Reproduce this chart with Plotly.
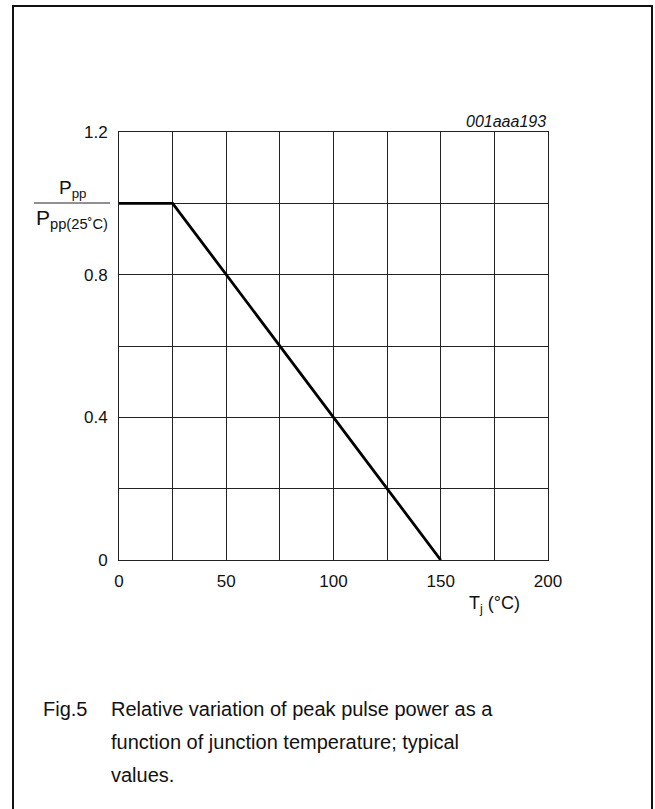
import plotly.graph_objects as go

# Data
temp_c = [0, 25, 150]
rel_power = [1.0, 1.0, 0.0]

x_grid = [0, 25, 50, 75, 100, 125, 150, 175, 200]
x_labels = ["0", "", "50", "", "100", "", "150", "", "200"]
y_grid = [0, 0.2, 0.4, 0.6, 0.8, 1.0, 1.2]
y_labels = ["0", "", "0.4", "", "0.8", "", "1.2"]

caption_lines = ["Relative variation of peak pulse power as a",
                 "function of junction temperature; typical",
                 "values."]

W, H = 655, 809
L, R, T, B = 119, 107, 132, 249
PW = W - L - R
PH = H - T - B

def px(xpix):
    return (xpix - L) / PW

def py(ypix):
    return (H - B - ypix) / PH

FONT = "Liberation Sans, Arial, sans-serif"

fig = go.Figure()
fig.add_trace(go.Scatter(x=temp_c, y=rel_power, mode="lines",
                         line=dict(color="black", width=2.8),
                         showlegend=False, hoverinfo="skip"))

fig.update_layout(
    width=W, height=H,
    margin=dict(l=L, r=R, t=T, b=B, pad=0),
    paper_bgcolor="white", plot_bgcolor="white",
    font=dict(family=FONT, size=17, color="#111"),
    xaxis=dict(range=[0, 200], tickvals=x_grid, ticktext=x_labels,
               showgrid=True, gridcolor="#222", gridwidth=1,
               showline=True, linecolor="#222", linewidth=1, mirror=True,
               ticks="", zeroline=False, ticklabelstandoff=6,
               tickfont=dict(size=17, family=FONT)),
    yaxis=dict(range=[0, 1.2], tickvals=y_grid, ticktext=y_labels,
               showgrid=True, gridcolor="#222", gridwidth=1,
               showline=True, linecolor="#222", linewidth=1, mirror=True,
               ticks="", zeroline=False, ticklabelstandoff=7,
               tickfont=dict(size=17, family=FONT)),
)

annotations = [
    dict(text="<i>001aaa193</i>", x=1.0, xref="paper", y=py(121), yref="paper",
         xanchor="right", yanchor="middle", showarrow=False,
         font=dict(size=16, family=FONT)),
    dict(text="T<sub>j</sub> (°C)", x=px(467), xref="paper", y=py(604), yref="paper",
         xanchor="left", yanchor="middle", showarrow=False,
         font=dict(size=18, family=FONT)),
    dict(text="P<sub>pp</sub>", x=px(72), xref="paper", y=py(189), yref="paper",
         xanchor="center", yanchor="middle", showarrow=False,
         font=dict(size=19, family=FONT)),
    dict(text="P<sub>pp(25˚C)</sub>", x=px(72), xref="paper", y=py(219), yref="paper",
         xanchor="center", yanchor="middle", showarrow=False,
         font=dict(size=21, family=FONT)),
    dict(text="Fig.5", x=px(41), xref="paper", y=py(709), yref="paper",
         xanchor="left", yanchor="middle", showarrow=False,
         font=dict(size=20, family=FONT)),
]
for i, line in enumerate(caption_lines):
    annotations.append(dict(text=line, x=px(109), xref="paper",
                            y=py(709 + 33 * i), yref="paper",
                            xanchor="left", yanchor="middle", showarrow=False,
                            font=dict(size=20, family=FONT)))
fig.update_layout(annotations=annotations)

shapes = [
    dict(type="line", xref="paper", yref="paper", x0=px(34), x1=px(110),
         y0=py(203), y1=py(203), line=dict(color="#222", width=1)),
    dict(type="rect", xref="paper", yref="paper", x0=px(13), x1=px(652),
         y0=py(6), y1=py(830), line=dict(color="#111", width=2),
         fillcolor="rgba(0,0,0,0)", layer="below"),
]
fig.update_layout(shapes=shapes)

fig.write_html("out.html")
